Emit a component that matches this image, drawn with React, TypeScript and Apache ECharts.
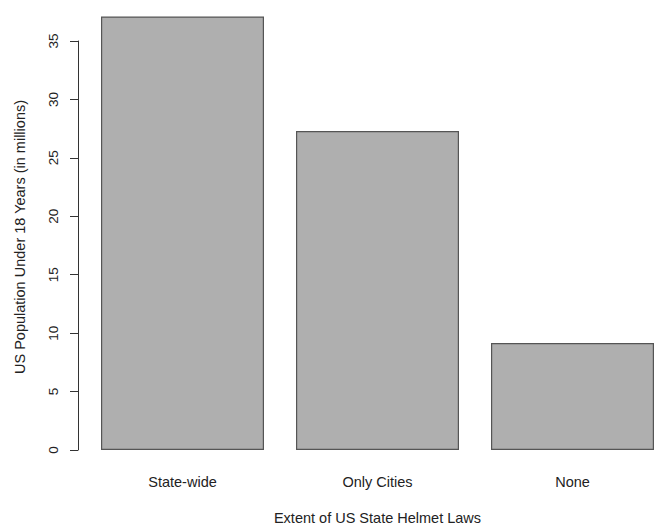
import React, { useEffect, useRef } from "react";
import * as echarts from "echarts";

const categories = ["State-wide", "Only Cities", "None"];
const populations = [37.1, 27.3, 9.15];
const yTicks = { min: 0, max: 35, interval: 5 };
const xTitle = "Extent of US State Helmet Laws";
const yTitle = "US Population Under 18 Years (in millions)";

export default function App() {
  const ref = useRef<HTMLDivElement>(null);
  useEffect(() => {
    if (!ref.current) return;
    const chart = echarts.init(ref.current, undefined, { renderer: "svg" });
    const font = "'Liberation Sans', Arial, Helvetica, sans-serif";
    chart.setOption({
      animation: false,
      backgroundColor: "#ffffff",
      textStyle: { fontFamily: font },
      grid: {
        left: 85,
        width: 585,
        top: 41,
        bottom: 75,
        containLabel: false,
        outerBoundsMode: "none",
      },
      xAxis: {
        type: "category",
        data: categories,
        axisLine: { show: false },
        axisTick: { show: false },
        axisLabel: { margin: 24, fontSize: 14.5, color: "#222", fontFamily: font },
        name: xTitle,
        nameLocation: "middle",
        nameGap: 60,
        nameTextStyle: { fontSize: 14.5, color: "#222", fontFamily: font },
      },
      yAxis: {
        type: "value",
        min: yTicks.min,
        max: yTicks.max,
        interval: yTicks.interval,
        offset: 7,
        splitLine: { show: false },
        axisLine: { show: true, lineStyle: { color: "#333", width: 1 } },
        axisTick: { show: true, length: 8, lineStyle: { color: "#333", width: 1 } },
        axisLabel: { rotate: 90, margin: 18, fontSize: 13.5, color: "#222", fontFamily: font },
        name: yTitle,
        nameLocation: "middle",
        nameGap: 51,
        nameRotate: 90,
        nameTextStyle: {
          fontSize: 14.5,
          color: "#222",
          fontFamily: font,
          padding: [0, 0, 0, 17],
        },
      },
      series: [
        {
          type: "bar",
          data: populations,
          barWidth: 163,
          clip: false,
          itemStyle: { color: "#afafaf", borderColor: "#555", borderWidth: 1.2 },
        },
      ],
    });
    return () => chart.dispose();
  }, []);
  return (
    <div
      ref={ref}
      style={{ position: "fixed", left: 0, top: 0, width: 654, height: 525 }}
    />
  );
}
